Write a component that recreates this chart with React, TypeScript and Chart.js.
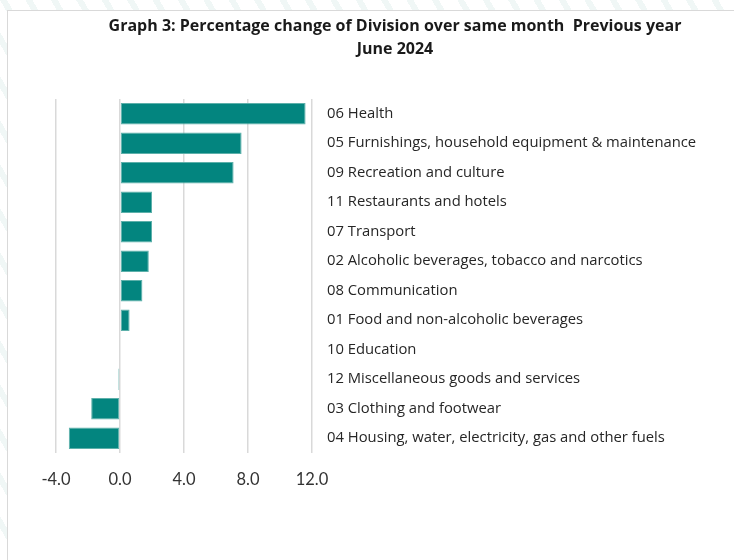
import React, { useEffect, useRef } from "react";
import { Chart, registerables } from "chart.js";

Chart.register(...registerables);

const categories: string[] = [
  "06 Health",
  "05 Furnishings, household equipment & maintenance",
  "09 Recreation and culture",
  "11 Restaurants and hotels",
  "07 Transport",
  "02 Alcoholic beverages, tobacco and narcotics",
  "08 Communication",
  "01 Food and non-alcoholic beverages",
  "10 Education",
  "12 Miscellaneous goods and services",
  "03 Clothing and footwear",
  "04 Housing, water, electricity, gas and other fuels",
];

const values: number[] = [11.6, 7.6, 7.1, 2.0, 2.0, 1.8, 1.4, 0.6, 0.0, -0.1, -1.8, -3.2];

const titleLines: string[] = [
  "Graph 3: Percentage change of Division over same month  Previous year",
  "June 2024",
];

const xMin = -4;
const xMax = 12;
const xStep = 4;

export default function App() {
  const ref = useRef<HTMLCanvasElement | null>(null);

  useEffect(() => {
    if (!ref.current) return;
    const chart = new Chart(ref.current, {
      type: "bar",
      data: {
        labels: categories,
        datasets: [
          {
            data: values,
            backgroundColor: "#03857f",
            borderColor: "#5db0aa",
            borderWidth: 1,
            borderSkipped: false,
            categoryPercentage: 0.735,
            barPercentage: 1,
          },
        ],
      },
      options: {
        indexAxis: "y",
        animation: false,
        responsive: false,
        maintainAspectRatio: false,
        layout: { padding: { top: 15, left: 56, right: 0, bottom: 0 } },
        plugins: {
          legend: { display: false },
          tooltip: { enabled: false },
          title: {
            display: true,
            text: titleLines,
            color: "#1a1a1a",
            font: { family: "Open Sans", size: 16, weight: "bold", lineHeight: 1.45 },
            padding: { top: 0, bottom: 37.6 },
          },
        },
        scales: {
          x: {
            type: "linear",
            min: xMin,
            max: xMax,
            ticks: {
              stepSize: xStep,
              color: "#333333",
              font: { family: "Lato", size: 16.5 },
              padding: 17,
              callback: (v: any) => Number(v).toFixed(1),
            },
            grid: { color: "#d9d9d9", lineWidth: 1.5, drawTicks: false },
            border: { display: false },
            afterFit: (s: any) => {
              s.height = 107;
            },
          },
          y: {
            position: "right",
            ticks: {
              color: "#262626",
              font: { family: "Open Sans", size: 14.8 },
              padding: 15,
              autoSkip: false,
            },
            grid: { display: false, drawTicks: false },
            border: { display: false },
            afterFit: (s: any) => {
              s.width = 422;
            },
          },
        },
      },
    });
    return () => chart.destroy();
  }, []);

  return (
    <div
      style={{
        position: "absolute",
        left: 0,
        top: 0,
        width: 734,
        height: 560,
        overflow: "hidden",
        background:
          "repeating-linear-gradient(60deg, #ffffff 0px, #ffffff 16px, #f0f7f6 16px, #f0f7f6 22px)",
      }}
    >
      <div
        style={{
          position: "absolute",
          left: 7,
          top: 10,
          width: 760,
          height: 600,
          background: "#ffffff",
          border: "1px solid #d9d9d9",
        }}
      />
      <canvas
        ref={ref}
        width={734}
        height={560}
        style={{ position: "absolute", left: 0, top: 0, width: 734, height: 560 }}
      />
    </div>
  );
}
